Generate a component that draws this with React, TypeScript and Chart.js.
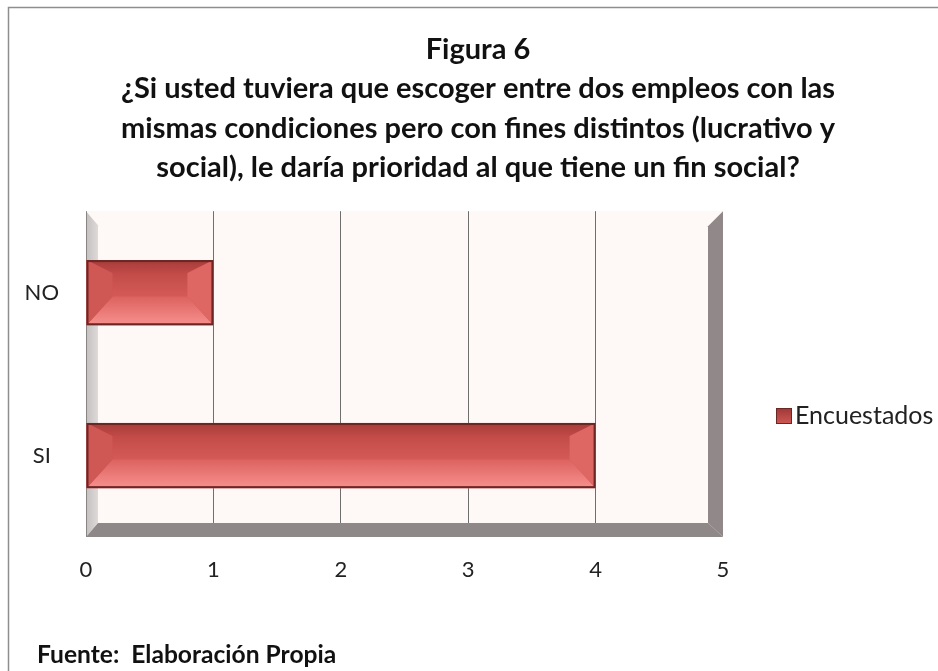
import React, { useEffect, useRef } from 'react';
import { Chart, registerables } from 'chart.js';

Chart.register(...registerables);

const categories = ['NO', 'SI'];
const encuestados = [1, 4];
const seriesLabel = 'Encuestados';
const xTickValues = [0, 1, 2, 3, 4, 5];
const titleLines = [
  'Figura 6',
  '¿Si usted tuviera que escoger entre dos empleos con las',
  'mismas condiciones pero con fines distintos (lucrativo y',
  'social), le daría prioridad al que tiene un fin social?',
];
const sourceNote = 'Fuente:  Elaboración Propia';

const FONT = 'Lato, "Open Sans", sans-serif';

function poly(ctx: CanvasRenderingContext2D, pts: number[][], fill: string | CanvasGradient) {
  ctx.beginPath();
  ctx.moveTo(pts[0][0], pts[0][1]);
  for (let i = 1; i < pts.length; i++) ctx.lineTo(pts[i][0], pts[i][1]);
  ctx.closePath();
  ctx.fillStyle = fill;
  ctx.fill();
}

const wallsPlugin = {
  id: 'walls3d',
  beforeDraw(chart: any) {
    const { ctx, width, height, chartArea: a } = chart;
    ctx.save();
    ctx.fillStyle = '#ffffff';
    ctx.fillRect(0, 0, width, height);
    ctx.fillStyle = '#FEF8F6';
    ctx.fillRect(a.left, a.top, a.right - a.left, a.bottom - a.top);
    // outer frame
    ctx.strokeStyle = '#8e8e8e';
    ctx.lineWidth = 1.5;
    ctx.beginPath();
    ctx.moveTo(8.5, height);
    ctx.lineTo(8.5, 7.5);
    ctx.lineTo(width, 7.5);
    ctx.stroke();
    ctx.restore();
  },
  beforeDatasetsDraw(chart: any) {
    const { ctx, chartArea: a } = chart;
    const dl = 12;
    const dr = 15;
    const dy = 14;
    ctx.save();
    // left wall
    const lg = ctx.createLinearGradient(a.left, 0, a.left + dl, 0);
    lg.addColorStop(0, '#c4bfbf');
    lg.addColorStop(1, '#dedad9');
    poly(ctx, [[a.left, a.top], [a.left + dl, a.top + dy], [a.left + dl, a.bottom - dy], [a.left, a.bottom]], lg);
    ctx.strokeStyle = '#8a8585';
    ctx.lineWidth = 1;
    ctx.beginPath();
    ctx.moveTo(a.left + 0.5, a.top);
    ctx.lineTo(a.left + 0.5, a.bottom);
    ctx.stroke();
    // floor
    poly(ctx, [[a.left, a.bottom], [a.left + dl, a.bottom - dy], [a.right - dr, a.bottom - dy], [a.right, a.bottom]], '#8f8888');
    // right wall
    poly(ctx, [[a.right - dr, a.top + dy + 1], [a.right, a.top], [a.right, a.bottom], [a.right - dr, a.bottom - dy]], '#918989');
    ctx.restore();
  },
  afterDatasetsDraw(chart: any) {
    const { ctx } = chart;
    const meta = chart.getDatasetMeta(0);
    ctx.save();
    meta.data.forEach((el: any) => {
      const { x, y, base, height } = el.getProps(['x', 'y', 'base', 'height'], true);
      const x0 = Math.min(base, x);
      const x1 = Math.max(base, x);
      const y0 = y - height / 2;
      const y1 = y + height / 2;
      const b = Math.min(26, (x1 - x0) / 4);
      const bt = height * 0.2;
      const bb = height * 0.44;
      const fg = ctx.createLinearGradient(0, y0 + bt, 0, y1 - bb);
      fg.addColorStop(0, '#c24b48');
      fg.addColorStop(1, '#d45a57');
      ctx.fillStyle = fg;
      ctx.fillRect(x0, y0, x1 - x0, y1 - y0);
      const tg = ctx.createLinearGradient(0, y0, 0, y0 + bt);
      tg.addColorStop(0, '#a63c39');
      tg.addColorStop(1, '#c04a47');
      poly(ctx, [[x0, y0], [x1, y0], [x1 - b, y0 + bt], [x0 + b, y0 + bt]], tg);
      const bg = ctx.createLinearGradient(0, y1 - bb, 0, y1);
      bg.addColorStop(0, '#dc625f');
      bg.addColorStop(1, '#f7908d');
      poly(ctx, [[x0, y1], [x1, y1], [x1 - b, y1 - bb], [x0 + b, y1 - bb]], bg);
      poly(ctx, [[x0, y0], [x0 + b, y0 + bt], [x0 + b, y1 - bb], [x0, y1]], '#cf5754');
      poly(ctx, [[x1, y0], [x1 - b, y0 + bt], [x1 - b, y1 - bb], [x1, y1]], '#de6663');
      ctx.strokeStyle = '#6a2725';
      ctx.lineWidth = 2;
      ctx.strokeRect(x0 + 1, y0 + 1, x1 - x0 - 2, y1 - y0 - 2);
    });
    ctx.restore();
  },
  afterDraw(chart: any) {
    const { ctx } = chart;
    const ds = chart.data.datasets[0];
    const sx = 776;
    const sy = 416;
    const s = 16;
    ctx.save();
    // legend
    const g = ctx.createLinearGradient(0, sy - s / 2, 0, sy + s / 2);
    g.addColorStop(0, '#9e3835');
    g.addColorStop(1, '#cf5855');
    ctx.fillStyle = g;
    ctx.fillRect(sx, sy - s / 2, s, s);
    ctx.strokeStyle = '#6a2725';
    ctx.lineWidth = 1;
    ctx.strokeRect(sx + 0.5, sy - s / 2 + 0.5, s - 1, s - 1);
    ctx.fillStyle = '#222';
    ctx.font = `25px ${FONT}`;
    ctx.textBaseline = 'middle';
    ctx.textAlign = 'left';
    ctx.fillText(ds.label, sx + s + 3, sy);
    // source note
    ctx.fillStyle = '#111';
    ctx.font = `bold 24.6px ${FONT}`;
    ctx.fillText(sourceNote, 37, 655);
    ctx.restore();
  },
};

export default function App() {
  const ref = useRef<HTMLCanvasElement>(null);

  useEffect(() => {
    if (!ref.current) return;
    const chart = new Chart(ref.current, {
      type: 'bar',
      data: {
        labels: categories,
        datasets: [
          {
            label: seriesLabel,
            data: encuestados,
            backgroundColor: '#c0504d',
            borderColor: '#6a2725',
            borderWidth: 1,
            categoryPercentage: 0.4,
            barPercentage: 1,
          },
        ],
      },
      options: {
        indexAxis: 'y',
        animation: false,
        responsive: false,
        layout: { padding: { left: 18, right: 0, top: 0, bottom: 0 } },
        plugins: {
          legend: { display: false },
          tooltip: { enabled: false },
          title: {
            display: true,
            text: titleLines,
            color: '#111',
            font: { family: FONT, size: 29, weight: 'bold', lineHeight: '39.3px' },
            padding: { top: 30, bottom: 24 },
          },
        },
        scales: {
          x: {
            type: 'linear',
            min: 0,
            max: 5,
            afterBuildTicks: (s: any) => {
              s.ticks = xTickValues.map((v) => ({ value: v }));
            },
            ticks: { color: '#222', font: { family: FONT, size: 22 }, padding: 20 },
            grid: {
              drawTicks: false,
              color: (c: any) =>
                c.tick && (c.tick.value === 0 || c.tick.value === 5) ? 'rgba(0,0,0,0)' : '#6f6f6f',
              lineWidth: 1,
            },
            border: { display: false },
            afterFit: (s: any) => {
              s.height = 134;
            },
          },
          y: {
            type: 'category',
            ticks: { crossAlign: 'center', padding: 27, color: '#222', font: { family: FONT, size: 22 } },
            grid: { display: false, drawTicks: false },
            border: { display: false },
            afterFit: (s: any) => {
              s.width = 68;
            },
          },
          yR: {
            type: 'category',
            position: 'right',
            ticks: { display: false },
            grid: { display: false, drawTicks: false },
            border: { display: false },
            afterFit: (s: any) => {
              s.width = 215;
            },
          },
        },
      } as any,
      plugins: [wallsPlugin],
    });
    return () => chart.destroy();
  }, []);

  return (
    <div style={{ position: 'fixed', left: 0, top: 0, width: 938, height: 671, background: '#fff' }}>
      <canvas ref={ref} width={938} height={671} style={{ display: 'block', width: 938, height: 671 }} />
    </div>
  );
}
